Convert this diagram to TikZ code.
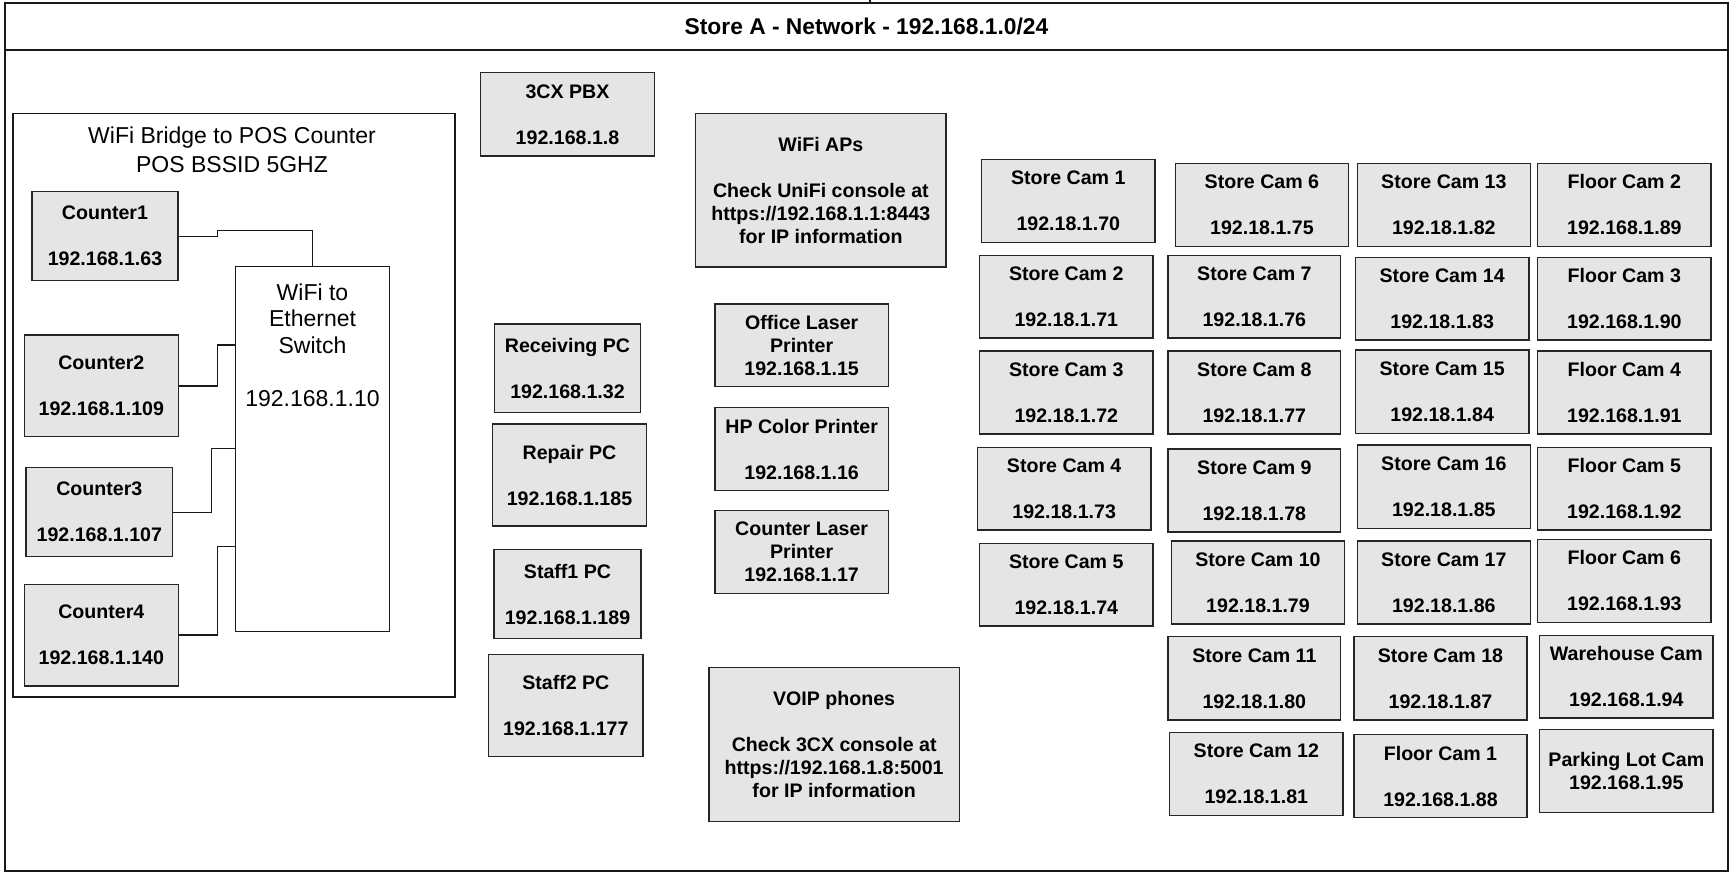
\documentclass[tikz,border=0pt]{standalone}
\usepackage{fontspec}
\setmainfont{Liberation Sans}
\usetikzlibrary{calc}
\tikzset{
  dev/.style={draw=black!85, line width=0.75pt, fill=gray!20, align=center, inner sep=0pt,
    font=\fontsize{9.8}{11.5}\selectfont\bfseries},
  plainbox/.style={draw=black!90, line width=0.8pt, fill=none, inner sep=0pt},
  swbox/.style={draw=black!90, line width=0.75pt, fill=white, inner sep=0pt},
  wire/.style={draw=black!90, line width=0.7pt},
  regtext/.style={align=center, inner sep=0pt, font=\fontsize{11.5}{14.3}\selectfont},
  swtext/.style={align=center, inner sep=0pt, font=\fontsize{11.5}{13.3}\selectfont},
  titletext/.style={inner sep=0pt, font=\fontsize{11.4}{13}\selectfont\bfseries}
}
\newcommand\devbox[7][dev]{%
  \pgfmathsetmacro\dbw{(#5-#3)*0.5}\pgfmathsetmacro\dbh{(#6-#4)*0.5}%
  \node[#1, minimum width=\dbw pt, minimum height=\dbh pt] (#2) at ({(#3+#5)/2},{(#4+#6)/2}) {#7};}
\begin{document}
\begin{tikzpicture}[x=0.5pt,y=-0.5pt]
\useasboundingbox (0,0) rectangle (1733,874);
% frame
\devbox[plainbox]{frame}{5}{3}{1728}{871}{}
\devbox[plainbox]{titlebar}{5}{3}{1728}{50}{}
\node[titletext] (title) at (866.5,26) {Store A - Network - 192.168.1.0/24};
\coordinate (tick) at (870,0);
\draw[wire] (tick) -- (tick |- frame.north);
% WiFi bridge group
\devbox[plainbox]{group}{12.7}{113.3}{455}{696.7}{}
\node[regtext] (grouptitle) at (232,149.5) {WiFi Bridge to POS Counter\\POS BSSID 5GHZ};
\devbox[swbox]{sw}{235.7}{266.7}{389.3}{631.7}{}
\node[swtext] (swtxt) at (312.5,345) {WiFi to\\Ethernet\\Switch\\[13.3pt]192.168.1.10};
\devbox{c1}{32}{191.7}{178}{280.7}{Counter1\\[11.5pt]192.168.1.63}
\devbox{c2}{24.3}{335}{178.3}{436.7}{Counter2\\[11.5pt]192.168.1.109}
\devbox{c3}{26}{467.7}{172.7}{556.7}{Counter3\\[11.5pt]192.168.1.107}
\devbox{c4}{24.3}{584.3}{178.3}{686}{Counter4\\[11.5pt]192.168.1.140}
\draw[wire] (c1.east) -- ++(38.7,0) -- ++(0,-6) -| (sw.north);
\draw[wire] (c2.east) -- ++(38.4,0) |- ($(sw.north west)+(0,79)$);
\draw[wire] (c3.east) -- ++(38,0) |- ($(sw.north west)+(0,182.6)$);
\draw[wire] (c4.east) -- ++(38.4,0) |- ($(sw.north west)+(0,280.3)$);
% middle column
\devbox{pbx}{480.7}{72.7}{654.3}{156}{3CX PBX\\[11.5pt]192.168.1.8}
\devbox{aps}{695.7}{113.3}{946}{267}{WiFi APs\\[11.5pt]Check UniFi console at\\https://192.168.1.1:8443\\for IP information}
\devbox{recv}{494.3}{324}{640.7}{412.7}{Receiving PC\\[11.5pt]192.168.1.32}
\devbox{repair}{492.3}{424}{646.7}{526}{Repair PC\\[11.5pt]192.168.1.185}
\devbox{staff1}{494}{549.3}{641}{638.7}{Staff1 PC\\[11.5pt]192.168.1.189}
\devbox{staff2}{488.7}{654.3}{643}{756.7}{Staff2 PC\\[11.5pt]192.168.1.177}
\devbox{olp}{715}{304}{888.3}{386.7}{Office Laser\\Printer\\192.168.1.15}
\devbox{hpc}{715}{407.7}{888.3}{490.7}{HP Color Printer\\[11.5pt]192.168.1.16}
\devbox{clp}{715}{510.7}{888.3}{593.3}{Counter Laser\\Printer\\192.168.1.17}
\devbox{voip}{709}{667.7}{959.3}{821.7}{VOIP phones\\[11.5pt]Check 3CX console at\\https://192.168.1.8:5001\\for IP information}
% cameras
\devbox{sc1}{981.7}{159.3}{1154.9}{242.3}{Store Cam 1\\[11.5pt]192.18.1.70}
\devbox{sc6}{1175.3}{163.3}{1348.5}{246.3}{Store Cam 6\\[11.5pt]192.18.1.75}
\devbox{sc13}{1357.3}{163.3}{1530.4}{246.3}{Store Cam 13\\[11.5pt]192.18.1.82}
\devbox{fc2}{1537.7}{163.3}{1711}{246.3}{Floor Cam 2\\[11.5pt]192.168.1.89}
\devbox{sc2}{979.7}{255.3}{1152.9}{338}{Store Cam 2\\[11.5pt]192.18.1.71}
\devbox{sc7}{1168}{255.3}{1340.7}{338}{Store Cam 7\\[11.5pt]192.18.1.76}
\devbox{sc14}{1355.3}{257.3}{1529}{340}{Store Cam 14\\[11.5pt]192.18.1.83}
\devbox{fc3}{1537.7}{257.3}{1711}{340}{Floor Cam 3\\[11.5pt]192.168.1.90}
\devbox{sc3}{979.7}{351}{1152.9}{434}{Store Cam 3\\[11.5pt]192.18.1.72}
\devbox{sc8}{1168}{351}{1340.7}{434}{Store Cam 8\\[11.5pt]192.18.1.77}
\devbox{sc15}{1355.3}{350}{1529}{433.3}{Store Cam 15\\[11.5pt]192.18.1.84}
\devbox{fc4}{1537.7}{351}{1711}{434}{Floor Cam 4\\[11.5pt]192.168.1.91}
\devbox{sc4}{977.3}{447.3}{1151}{530}{Store Cam 4\\[11.5pt]192.18.1.73}
\devbox{sc9}{1168}{449}{1340.7}{532}{Store Cam 9\\[11.5pt]192.18.1.78}
\devbox{sc16}{1357.3}{445}{1530.4}{528.3}{Store Cam 16\\[11.5pt]192.18.1.85}
\devbox{fc5}{1537.7}{447.3}{1711}{530}{Floor Cam 5\\[11.5pt]192.168.1.92}
\devbox{sc5}{979.7}{543.3}{1152.9}{626}{Store Cam 5\\[11.5pt]192.18.1.74}
\devbox{sc10}{1171.4}{541}{1344.6}{624}{Store Cam 10\\[11.5pt]192.18.1.79}
\devbox{sc17}{1357.3}{541}{1530.4}{624}{Store Cam 17\\[11.5pt]192.18.1.86}
\devbox{fc6}{1537.7}{539.3}{1711}{622.3}{Floor Cam 6\\[11.5pt]192.168.1.93}
\devbox{sc11}{1168}{636.7}{1340.7}{720}{Store Cam 11\\[11.5pt]192.18.1.80}
\devbox{sc18}{1353.9}{636.7}{1527}{720}{Store Cam 18\\[11.5pt]192.18.1.87}
\devbox{whc}{1539.7}{635.3}{1712.9}{718}{Warehouse Cam\\[11.5pt]192.168.1.94}
\devbox{sc12}{1169.5}{732.7}{1343.1}{815.7}{Store Cam 12\\[11.5pt]192.18.1.81}
\devbox{fc1}{1353.9}{734.3}{1527}{817.7}{Floor Cam 1\\[11.5pt]192.168.1.88}
\devbox{plc}{1539.7}{729.3}{1712.9}{812.3}{Parking Lot Cam\\192.168.1.95}
\end{tikzpicture}
\end{document}
